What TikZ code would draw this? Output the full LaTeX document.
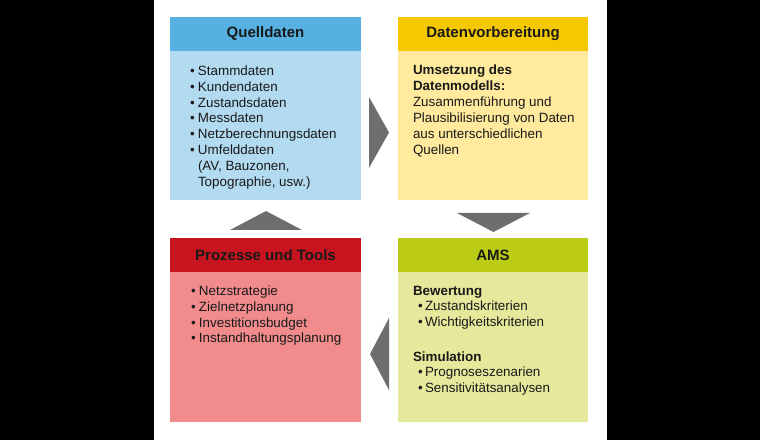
\documentclass[tikz,border=0pt]{standalone}
\usepackage{fontspec}
\setmainfont{Liberation Sans}
\definecolor{qhead}{RGB}{86,176,226}
\definecolor{qbody}{RGB}{178,218,241}
\definecolor{dhead}{RGB}{245,200,0}
\definecolor{dbody}{RGB}{255,234,158}
\definecolor{phead}{RGB}{200,20,30}
\definecolor{pbody}{RGB}{242,140,140}
\definecolor{ahead}{RGB}{188,204,20}
\definecolor{abody}{RGB}{230,232,156}
\definecolor{tri}{RGB}{110,110,110}
\definecolor{txtc}{RGB}{25,25,25}
\newcommand{\bul}{\makebox[8bp][l]{•}}
\newcommand{\bulb}{\makebox[7bp][l]{•}}
\tikzset{
  boxbody/.style={inner sep=0, outer sep=0, draw=none, anchor=north west, minimum width=#1},
  boxhead/.style={inner sep=0, outer sep=0, draw=none, anchor=north west, minimum height=34bp,
    font=\fontsize{15bp}{18bp}\selectfont\bfseries, text=txtc},
  txt/.style={inner sep=0, outer sep=0, anchor=north west, align=left, text=txtc},
  arrowtri/.style={fill=tri, draw=none}
}
\begin{document}
\begin{tikzpicture}[x=1bp,y=-1bp]
\useasboundingbox (0,0) rectangle (760,440);
\fill[black] (0,0) rectangle (760,440);
\fill[white] (154,0) rectangle (607,440);

% boxes
\node[boxbody=191bp, minimum height=183bp, fill=qbody] (q) at (170,17) {};
\node[boxhead, minimum width=191bp, fill=qhead] (qh) at (q.north west) {Quelldaten};
\node[boxbody=190bp, minimum height=183bp, fill=dbody] (d) at (398,17) {};
\node[boxhead, minimum width=190bp, fill=dhead] (dh) at (d.north west) {Datenvorbereitung};
\node[boxbody=191bp, minimum height=184bp, fill=pbody] (p) at (170,238) {};
\node[boxhead, minimum width=191bp, fill=phead] (ph) at (p.north west) {Prozesse und Tools};
\node[boxbody=190bp, minimum height=184bp, fill=abody] (a) at (398,238) {};
\node[boxhead, minimum width=190bp, fill=ahead] (ah) at (a.north west) {AMS};

% texts
\node[txt, font=\fontsize{13.4bp}{15.9bp}\selectfont] (qt) at (190,65.5) {%
\bul Stammdaten\\
\bul Kundendaten\\
\bul Zustandsdaten\\
\bul Messdaten\\
\bul Netzberechnungsdaten\\
\bul Umfelddaten\\
\hspace*{8bp}(AV, Bauzonen,\\
\hspace*{8bp}Topographie, usw.)};

\node[txt, font=\fontsize{13.4bp}{16bp}\selectfont] (dt) at (413,65) {%
\textbf{Umsetzung des}\\
\textbf{Datenmodells:}\\
Zusammenführung und\\
Plausibilisierung von Daten\\
aus unterschiedlichen\\
Quellen};

\node[txt, font=\fontsize{13.4bp}{15.7bp}\selectfont] (pt) at (191,286) {%
\bul Netzstrategie\\
\bul Zielnetzplanung\\
\bul Investitionsbudget\\
\bul Instandhaltungsplanung};

\node[txt, font=\fontsize{13.4bp}{15.7bp}\selectfont] (at) at (413,286) {%
\textbf{Bewertung}\\
\hspace*{5bp}\bulb Zustandskriterien\\
\hspace*{5bp}\bulb Wichtigkeitskriterien\\[18.7bp]
\textbf{Simulation}\\
\hspace*{5bp}\bulb Prognoseszenarien\\
\hspace*{5bp}\bulb Sensitivitätsanalysen};

% triangles (flow arrows)
\fill[arrowtri] (369,97) -- (369,168) -- (389,132.5) -- cycle;
\fill[arrowtri] (457,213) -- (530,213) -- (493.5,232) -- cycle;
\fill[arrowtri] (389,318) -- (389,390) -- (370,354) -- cycle;
\fill[arrowtri] (230,230) -- (302,230) -- (266,211) -- cycle;
\end{tikzpicture}
\end{document}
